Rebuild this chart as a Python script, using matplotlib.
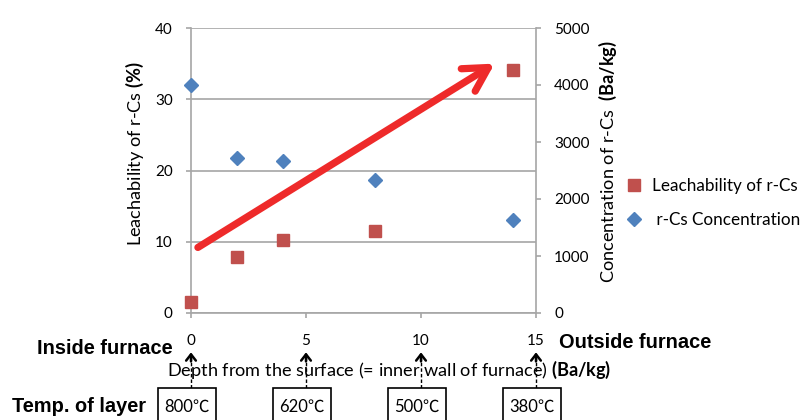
import matplotlib
matplotlib.use("Agg")
import matplotlib.pyplot as plt
from matplotlib.patches import Rectangle

# ── data ─────────────────────────────────────────────────────────────
depth_leach = [0, 2, 4, 8, 14]
leachability = [1.5, 7.9, 10.2, 11.5, 34.1]          # %
depth_conc = [0, 2, 4, 8, 14]
concentration = [4000, 2720, 2670, 2340, 1640]       # Ba/kg
depth_ticks = [0, 5, 10, 15]
leach_ticks = [0, 10, 20, 30, 40]
conc_ticks = [0, 1000, 2000, 3000, 4000, 5000]
layer_temps = ["800℃", "620℃", "500℃", "380℃"]

# trend arrow (drawn on the leachability scale)
TREND_START = (0.3, 9.2)
TREND_END = (13.2, 35.0)

# ── look ─────────────────────────────────────────────────────────────
W, H = 811, 420
RED = "#C0504D"
BLUE = "#4F81BD"
ARROW = "#EE2A2A"
GRID = "#A6A6A6"
FONT = ["Lato", "Noto Sans CJK JP", "DejaVu Sans"]
BOLD = "Liberation Sans"
TICK_FS = 11
LABEL_FS = 13.1
LEGEND_FS = 12.3
NOTE_FS = 14.4

plt.rcParams["font.family"] = FONT
plt.rcParams["mathtext.fontset"] = "custom"
plt.rcParams["mathtext.rm"] = "Lato"
plt.rcParams["mathtext.bf"] = "Lato:bold"


def px(x, y):
    """pixel position (from top-left) -> figure fraction"""
    return x / W, (H - y) / H


fig = plt.figure(figsize=(W / 100, H / 100), dpi=100)
ax = fig.add_axes([191 / W, 107 / H, 345 / W, 285 / H])
ax2 = ax.twinx()

ax.set_xlim(0, 15)
ax.set_ylim(0, 40)
ax2.set_ylim(0, 5000)
ax.set_xticks(depth_ticks)
ax.set_yticks(leach_ticks)
ax2.set_yticks(conc_ticks)

ax.yaxis.grid(True, color=GRID, lw=1.2)
ax.set_axisbelow(True)
for a in (ax, ax2):
    a.spines["top"].set_visible(False)
ax.spines["right"].set_visible(False)
ax2.spines["left"].set_visible(False)
ax2.spines["bottom"].set_visible(False)
for s in ("left", "bottom"):
    ax.spines[s].set_color(GRID)
    ax.spines[s].set_linewidth(1.2)
ax2.spines["right"].set_color(GRID)
ax2.spines["right"].set_linewidth(1.2)

ax.tick_params(axis="y", direction="out", length=3.6, color=GRID, width=1.2,
               labelsize=TICK_FS, pad=9.5)
ax.tick_params(axis="x", direction="out", length=3.6, color=GRID, width=1.2,
               labelsize=TICK_FS, pad=11.5)
ax2.tick_params(axis="y", direction="out", length=3.6, color=GRID, width=1.2,
                labelsize=TICK_FS, pad=9.5)

ax.plot(depth_leach, leachability, ls="none", marker="s", ms=9,
        color=RED, mec=RED, clip_on=False, zorder=3,
        label="Leachability of r-Cs")
ax2.plot(depth_conc, concentration, ls="none", marker="D", ms=7,
         color=BLUE, mec=BLUE, clip_on=False, zorder=3,
         label=" r-Cs Concentration")

# big red trend arrow
ax2.annotate("", xy=TREND_END, xytext=TREND_START, xycoords=ax.transData,
             textcoords=ax.transData,
             arrowprops=dict(arrowstyle="->,head_length=1.7,head_width=0.95",
                             color=ARROW, lw=5.2, shrinkA=0, shrinkB=0,
                             mutation_scale=10, capstyle="round",
                             joinstyle="round"),
             zorder=5)

# axis titles
fig.text(*px(135, 154), r"Leachability of r-Cs $\mathbf{(\%)}$",
         rotation=90, ha="center", va="center", fontsize=LABEL_FS)
fig.text(*px(608, 162), r"Concentration of r-Cs  $\mathbf{(Ba/kg)}$",
         rotation=90, ha="center", va="center", fontsize=LABEL_FS)
fig.text(*px(167, 370),
         r"Depth from the surface (= inner wall of furnace) $\mathbf{(Ba/kg)}$",
         ha="left", va="center", fontsize=LABEL_FS)

# side notes
fig.text(*px(105, 348), "Inside furnace", family=BOLD, weight="bold",
         fontsize=NOTE_FS, ha="center", va="center")
fig.text(*px(559, 342), "Outside furnace", family=BOLD, weight="bold",
         fontsize=NOTE_FS, ha="left", va="center")
fig.text(*px(12, 407), "Temp. of layer", family=BOLD, weight="bold",
         fontsize=NOTE_FS, ha="left", va="center")

# dashed pointers from the temperature boxes up to the depth ticks
xt = ax.get_xaxis_transform()
for d, temp in zip(depth_ticks, layer_temps):
    ax.plot([d, d], [-0.262, -0.15], transform=xt, color="black", lw=1,
            ls=(0, (2.5, 1.5)), clip_on=False)
    ax.annotate("", xy=(d, -0.138), xytext=(d, -0.17), xycoords=xt,
                arrowprops=dict(arrowstyle="->,head_length=0.45,head_width=0.35",
                                color="black", lw=1.8, shrinkA=0, shrinkB=0),
                annotation_clip=False)
    cx = ax.transData.transform((d, 0))[0] - 4
    x0, y0 = px(cx - 29, 422)
    x1, y1 = px(cx + 29, 388)
    fig.add_artist(Rectangle((x0, y0), x1 - x0, y1 - y0,
                             transform=fig.transFigure, fc="white",
                             ec="black", lw=1.2))
    fig.text((x0 + x1) / 2, px(0, 407)[1], temp, ha="center", va="center",
             fontsize=12)

# legend
handles = ax.get_legend_handles_labels()[0] + ax2.get_legend_handles_labels()[0]
labels = [h.get_label() for h in handles]
fig.legend(handles, labels, loc="center left",
           bbox_to_anchor=px(625, 203), frameon=False, fontsize=LEGEND_FS,
           labelspacing=1.0, handletextpad=0.6, handlelength=1.0,
           borderpad=0, borderaxespad=0)

fig.savefig("out.png", dpi=100)
